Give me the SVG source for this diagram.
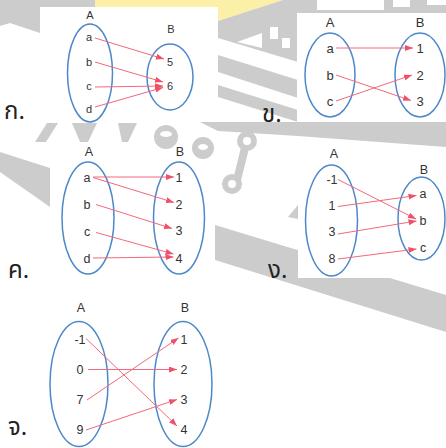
<svg xmlns="http://www.w3.org/2000/svg" width="446" height="448" viewBox="0 0 446 448">
  <style>
    .set { fill: none; stroke: #4d88c9; stroke-width: 1.5; }
    .hdr { font-family: "Liberation Sans", Arial, sans-serif; fill: #333; text-anchor: middle; }
    .el { font-family: "Liberation Sans", Arial, sans-serif; fill: #333; text-anchor: middle; }
    .tag { font-family: "Noto Sans Thai", "Noto Sans", "DejaVu Sans", sans-serif; font-size: 24px; fill: #222; }
    .wm { fill: #cccccc; }
    .panel { fill: #ffffff; }
    .cn { stroke: #f2697a; stroke-width: 1; fill: none; marker-end: url(#arr); }
  </style>
  <defs>
    <marker id="arr" markerUnits="userSpaceOnUse" markerWidth="8" markerHeight="6" refX="8" refY="3" orient="auto">
      <path d="M0,0 L8,3 L0,6 z" fill="#f0506a"/>
    </marker>
  </defs>

  <!-- background with faded watermark -->
  <g id="background">
    <rect width="446" height="448" fill="#ffffff"/>
    <polygon points="95,0 283,0 218,21 95,21" fill="#fcefa8"/>
    <polygon class="wm" points="0,0 95,0 95,7 40,7 40,33 10,23 0,26"/>
    <polygon class="wm" points="283,0 446,0 446,13 298,13 298,62 218,38 218,21"/>
    <rect x="317" y="0" width="67" height="10" fill="#ffffff"/>
    <rect x="393" y="0" width="17" height="7" fill="#ffffff"/>
    <rect x="427" y="0" width="19" height="5" fill="#ffffff"/>
    <polygon points="237,42 262,33 262,48" fill="#ffffff"/>
    <rect x="270" y="27" width="8" height="12" fill="#ffffff"/>
    <rect x="282" y="38" width="8" height="10" fill="#ffffff"/>
    <polygon class="wm" points="218,55 298,80 298,98 218,72"/>
    <polygon class="wm" points="218,85 298,110 298,122 218,97"/>
    <polygon class="wm" points="0,152 50,168 50,207 0,172"/>
    <polygon class="wm" points="215,225 446,295 446,332 215,260"/>
    <polygon class="wm" points="288,217 298,205 298,219"/>
  </g>

  <!-- white panels behind each diagram -->
  <g id="panels">
    <rect class="panel" x="40" y="7" width="178" height="115"/>
    <rect class="panel" x="297" y="13" width="149" height="110"/>
    <rect class="panel" x="50" y="142" width="165" height="140"/>
    <rect class="panel" x="298" y="136" width="148" height="142"/>
  </g>

  <!-- watermark fragments between the rows -->
  <g id="watermark">
    <polygon class="wm" points="200,122 446,122 446,147 298,136 218,131"/>
    <polygon class="wm" points="35,142 47,123 58,123 46,142"/>
    <polygon class="wm" points="72,123 97,123 88,142 80,142"/>
    <polygon class="wm" points="118,123 137,123 128,142 122,142"/>
    <circle class="wm" cx="166" cy="137" r="12"/>
    <ellipse cx="166" cy="134" rx="6" ry="3" fill="#ffffff"/>
    <circle class="wm" cx="203" cy="148" r="11"/>
    <ellipse cx="203" cy="147" rx="5" ry="3" fill="#ffffff"/>
    <line x1="246" y1="144" x2="237" y2="180" stroke="#cccccc" stroke-width="8"/>
    <circle class="wm" cx="247" cy="141" r="10"/>
    <circle cx="247" cy="141" r="4" fill="#ffffff"/>
    <circle class="wm" cx="232" cy="184" r="10"/>
    <circle cx="232" cy="184" r="4" fill="#ffffff"/>
  </g>

  <!-- item labels -->
  <g id="labels">
    <text class="tag" x="4" y="119">ก.</text>
    <text class="tag" x="262" y="122">ข.</text>
    <text class="tag" x="8" y="278">ค.</text>
    <text class="tag" x="268" y="278">ง.</text>
    <text class="tag" x="8" y="435" font-size="22">จ.</text>
  </g>

  <!-- ก. -->
  <g id="k-setA" font-size="11">
    <ellipse class="set" cx="90" cy="73" rx="22.5" ry="49"/>
    <text class="hdr" x="90" y="19">A</text>
    <text class="el" x="89" y="41">a</text>
    <text class="el" x="89" y="66">b</text>
    <text class="el" x="89" y="90">c</text>
    <text class="el" x="89" y="113">d</text>
  </g>
  <g id="k-setB" font-size="11">
    <ellipse class="set" cx="170" cy="77" rx="23" ry="33"/>
    <text class="hdr" x="171" y="33">B</text>
    <text class="el" x="170" y="66">5</text>
    <text class="el" x="170" y="90">6</text>
  </g>

  <!-- ข. -->
  <g id="kh-setA" font-size="13">
    <ellipse class="set" cx="330" cy="75" rx="25" ry="42"/>
    <text class="hdr" x="330" y="27">A</text>
    <text class="el" x="330" y="53">a</text>
    <text class="el" x="330" y="80">b</text>
    <text class="el" x="330" y="106">c</text>
  </g>
  <g id="kh-setB" font-size="13">
    <ellipse class="set" cx="420" cy="75" rx="25" ry="42"/>
    <text class="hdr" x="420" y="27">B</text>
    <text class="el" x="420" y="53">1</text>
    <text class="el" x="420" y="80">2</text>
    <text class="el" x="420" y="106">3</text>
  </g>

  <!-- ค. -->
  <g id="kk-setA" font-size="12.5">
    <ellipse class="set" cx="88" cy="218" rx="26" ry="56"/>
    <text class="hdr" x="89" y="156">A</text>
    <text class="el" x="87" y="182">a</text>
    <text class="el" x="87" y="209">b</text>
    <text class="el" x="87" y="236">c</text>
    <text class="el" x="87" y="263">d</text>
  </g>
  <g id="kk-setB" font-size="12.5">
    <ellipse class="set" cx="179" cy="218" rx="25.5" ry="56"/>
    <text class="hdr" x="180" y="156">B</text>
    <text class="el" x="179" y="182">1</text>
    <text class="el" x="179" y="209">2</text>
    <text class="el" x="179" y="235">3</text>
    <text class="el" x="179" y="263">4</text>
  </g>

  <!-- ง. -->
  <g id="ng-setA" font-size="12.5">
    <ellipse class="set" cx="331.5" cy="220.5" rx="26" ry="55.5"/>
    <text class="hdr" x="334" y="158">A</text>
    <text class="el" x="332" y="184">-1</text>
    <text class="el" x="332" y="210">1</text>
    <text class="el" x="332" y="236">3</text>
    <text class="el" x="332" y="263">8</text>
  </g>
  <g id="ng-setB" font-size="12.5">
    <ellipse class="set" cx="421.5" cy="218.5" rx="23.5" ry="41.5"/>
    <text class="hdr" x="424" y="174">B</text>
    <text class="el" x="423" y="198">a</text>
    <text class="el" x="423" y="225">b</text>
    <text class="el" x="423" y="252">c</text>
  </g>

  <!-- จ. -->
  <g id="ch-setA" font-size="12.5">
    <ellipse class="set" cx="79" cy="384" rx="29" ry="62.5"/>
    <text class="hdr" x="81" y="312">A</text>
    <text class="el" x="80" y="344">-1</text>
    <text class="el" x="80" y="374">0</text>
    <text class="el" x="80" y="404">7</text>
    <text class="el" x="80" y="434">9</text>
  </g>
  <g id="ch-setB" font-size="12.5">
    <ellipse class="set" cx="183" cy="384" rx="29" ry="62.5"/>
    <text class="hdr" x="185" y="312">B</text>
    <text class="el" x="184" y="344">1</text>
    <text class="el" x="184" y="374">2</text>
    <text class="el" x="184" y="404">3</text>
    <text class="el" x="184" y="434">4</text>
  </g>

  <!-- mapping arrows -->
  <g id="connectors">
    <line class="cn" x1="95" y1="38" x2="164" y2="59"/>
    <line class="cn" x1="95" y1="62" x2="163" y2="82"/>
    <line class="cn" x1="95" y1="87" x2="163" y2="86"/>
    <line class="cn" x1="95" y1="107" x2="163" y2="87.5"/>

    <line class="cn" x1="336" y1="48" x2="413" y2="48"/>
    <line class="cn" x1="336" y1="75" x2="411" y2="100.5"/>
    <line class="cn" x1="336" y1="101" x2="412" y2="75"/>

    <line class="cn" x1="93" y1="177" x2="174" y2="177"/>
    <line class="cn" x1="93" y1="177.5" x2="174" y2="202.5"/>
    <line class="cn" x1="96" y1="204.5" x2="172" y2="228.5"/>
    <line class="cn" x1="96" y1="232.5" x2="173.5" y2="254"/>
    <line class="cn" x1="93" y1="258" x2="173.5" y2="257"/>

    <line class="cn" x1="338" y1="179.5" x2="416" y2="219"/>
    <line class="cn" x1="338" y1="206.5" x2="416.5" y2="195.5"/>
    <line class="cn" x1="338" y1="234" x2="416.5" y2="221"/>
    <line class="cn" x1="338" y1="259" x2="416.5" y2="249"/>

    <line class="cn" x1="86" y1="338.5" x2="177" y2="426"/>
    <line class="cn" x1="88" y1="369.5" x2="177" y2="369.5"/>
    <line class="cn" x1="87" y1="400" x2="178.5" y2="338"/>
    <line class="cn" x1="86" y1="430" x2="177" y2="399.5"/>
  </g>
</svg>
